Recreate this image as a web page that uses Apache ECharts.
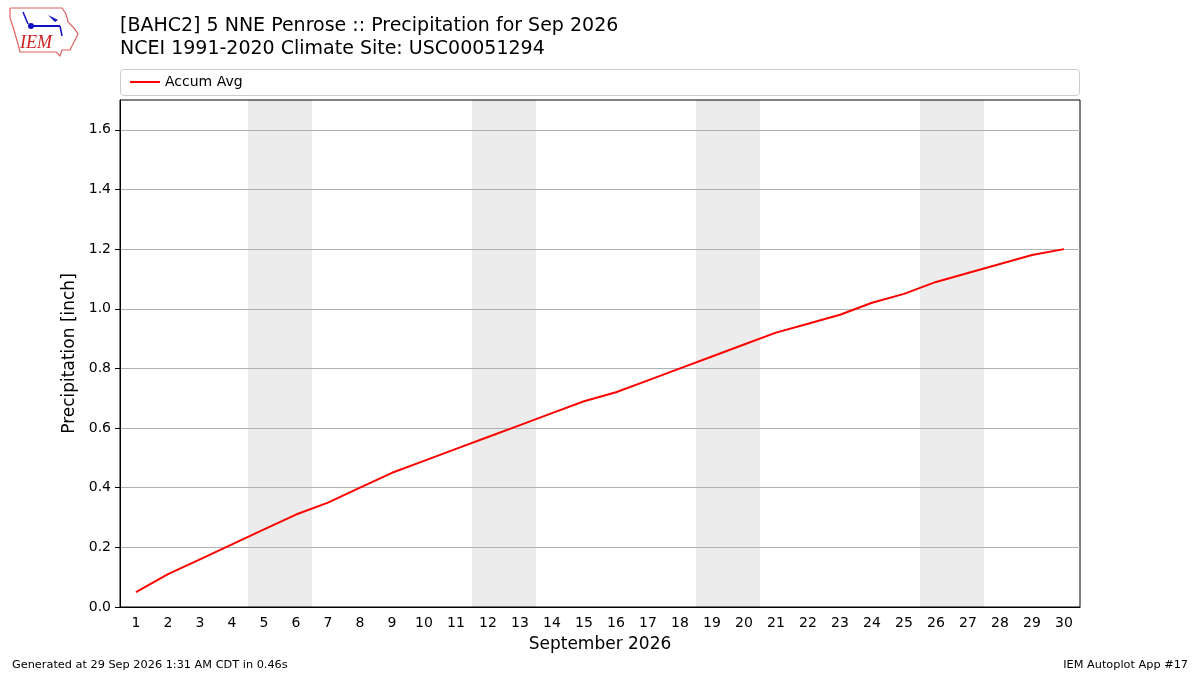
<!DOCTYPE html>
<html><head><meta charset="utf-8">
<script src="https://cdn.jsdelivr.net/npm/echarts@6/dist/echarts.min.js"></script>
<style>html,body{margin:0;padding:0;background:#fff}#c{width:1200px;height:675px}</style>
</head><body><div id="c"></div>
<script>
const days = Array.from({length:30},(_,i)=>String(i+1));
const accumAvg = [0.05,0.11,0.16,0.21,0.26,0.31,0.35,0.40,0.45,0.49,0.53,0.57,0.61,0.65,0.69,0.72,0.76,0.80,0.84,0.88,0.92,0.95,0.98,1.02,1.05,1.09,1.12,1.15,1.18,1.20];
const weekendDays = ['5','6','12','13','19','20','26','27'];
const yTicks = [0,0.2,0.4,0.6,0.8,1.0,1.2,1.4,1.6];
const yMax = 1.7;
const shade = days.map(d => weekendDays.includes(d) ? yMax : null);
const F = 'DejaVu Sans';
const chart = echarts.init(document.getElementById('c'), null, {renderer:'canvas'});
chart.setOption({
  animation:false,
  textStyle:{fontFamily:F},
  graphic:[
    {type:'text', left:120, top:17, style:{text:'[BAHC2] 5 NNE Penrose :: Precipitation for Sep 2026', font:'19px "DejaVu Sans"', fill:'#000'}},
    {type:'text', left:120, top:40, style:{text:'NCEI 1991-2020 Climate Site: USC00051294', font:'19px "DejaVu Sans"', fill:'#000'}},
    {type:'rect', shape:{x:120.5,y:69.5,width:959,height:26,r:3}, style:{fill:'#fff',stroke:'#cccccc',lineWidth:1}, z:0},
    {type:'text', left:12, top:660, style:{text:'Generated at 29 Sep 2026 1:31 AM CDT in 0.46s', font:'11.3px "DejaVu Sans"', fill:'#000'}},
    {type:'text', right:12, top:660, style:{text:'IEM Autoplot App #17', font:'11.3px "DejaVu Sans"', fill:'#000'}},
    {type:'polyline', shape:{points:[[10,8],[62,8],[66,14],[68,22],[74,28],[78,34],[74,42],[70,50],[62,50],[60,56],[56,52],[20,52],[18,44],[14,30],[10,18],[10,8]]}, style:{stroke:'#e06060',fill:null,lineWidth:1.2}},
    {type:'text', left:20, top:34, style:{text:'IEM', font:'italic 18px "Liberation Serif"', fill:'#d02020'}},
    {type:'polyline', shape:{points:[[30,26],[60,26]]}, style:{stroke:'#1010c0',lineWidth:2}},
    {type:'circle', shape:{cx:31,cy:26,r:3}, style:{fill:'#1010c0'}},
    {type:'polyline', shape:{points:[[23,12],[28,24]]}, style:{stroke:'#1010c0',lineWidth:1.5}},
    {type:'polygon', shape:{points:[[48,15],[58,20],[55,22]]}, style:{fill:'#1010c0'}},
    {type:'polyline', shape:{points:[[60,26],[62,36]]}, style:{stroke:'#1010c0',lineWidth:1.5}}
  ],
  legend:{left:125, top:70, itemWidth:30, itemHeight:12, itemGap:10,
    textStyle:{fontSize:14, fontFamily:F, color:'#000'},
    data:[{name:'Accum Avg', icon:'path://M0,0 L30,0 L30,2 L0,2 Z'}]},
  grid:{left:120, right:120, top:100, bottom:68, show:true, borderColor:'#000', borderWidth:1, backgroundColor:'transparent', containLabel:false},
  xAxis:{type:'category', data:days, boundaryGap:true,
    name:'September 2026', nameLocation:'middle', nameGap:29,
    nameTextStyle:{fontSize:17, fontFamily:F, color:'#000'},
    axisLine:{lineStyle:{color:'#000'}},
    axisTick:{alignWithLabel:true, length:5, lineStyle:{color:'#000'}},
    axisLabel:{fontSize:14, color:'#000', margin:9, fontFamily:F},
    splitLine:{show:false}},
  yAxis:{type:'value', min:0, max:yMax, interval:0.2,
    name:'Precipitation [inch]', nameLocation:'middle', nameGap:38,
    nameTextStyle:{fontSize:17, fontFamily:F, color:'#000'},
    axisLine:{show:true, lineStyle:{color:'#000'}},
    axisTick:{show:true, length:5, customValues:yTicks, lineStyle:{color:'#000'}},
    axisLabel:{fontSize:14, color:'#000', margin:9, fontFamily:F, customValues:yTicks,
      formatter:v => v.toFixed(1)},
    splitLine:{show:true, showMinLine:false, showMaxLine:true, lineStyle:{color:'#b0b0b0', width:1}}},
  series:[
    {name:'weekend', type:'bar', data:shade, barCategoryGap:'0%', barGap:'0%', itemStyle:{color:'#ececec'}, z:-1, silent:true},
    {name:'Accum Avg', type:'line', data:accumAvg, symbol:'none', lineStyle:{color:'#ff0000', width:2}, itemStyle:{color:'#ff0000'}, z:5}
  ]
});
</script></body></html>
